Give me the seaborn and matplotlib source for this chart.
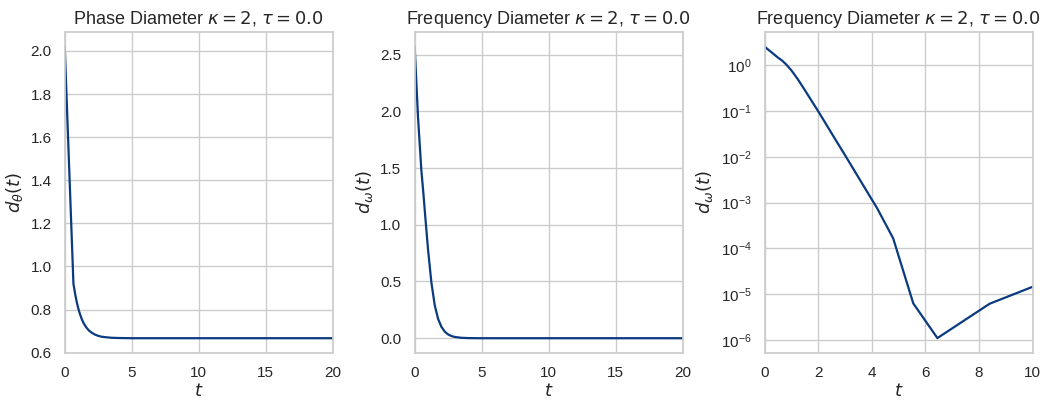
import matplotlib

matplotlib.use("Agg")
import matplotlib.pyplot as plt
import seaborn as sns

# phase diameter d_theta(t)
phase_t = [0.0, 0.33, 0.65, 0.7, 0.8, 0.9, 1.0, 1.1, 1.25, 1.4, 1.6, 1.8, 2.0, 2.25, 2.5, 2.75,
           3.0, 3.5, 4.0, 5.0, 10.0, 15.0, 20.0]
phase_d = [2.02, 1.46, 0.92, 0.901, 0.865, 0.834, 0.808, 0.786, 0.759, 0.738, 0.718, 0.703, 0.693,
           0.684, 0.678, 0.674, 0.672, 0.669, 0.668, 0.667, 0.667, 0.667, 0.667]

# frequency diameter d_omega(t)
freq_t = [0.0, 0.25, 0.5, 0.65, 0.8, 1.0, 1.25, 1.5, 1.75, 2.0, 2.25, 2.5, 2.75, 3.0, 3.5, 4.0,
          4.2, 4.8, 5.55, 6.45, 8.4, 10.0, 14.0, 20.0]
freq_d = [2.57, 1.95, 1.48, 1.28, 1.06, 0.78, 0.49, 0.29, 0.17, 0.10, 0.0575, 0.033, 0.019, 0.011,
          0.0036, 0.00118, 0.00076, 1.66e-4, 6.3e-6, 1.1e-6, 6.2e-6, 1.45e-5, 3.5e-5, 8e-5]

line_color = "#0a3a80"
title = r"Diameter $\kappa = 2$, $\tau = 0.0$"

sns.set_theme(style="whitegrid")
plt.rcParams["font.family"] = ["Liberation Sans", "DejaVu Sans"]
plt.rcParams["xtick.labelsize"] = 11
plt.rcParams["ytick.labelsize"] = 11

fig, axes = plt.subplots(1, 3, figsize=(10.44, 4), dpi=100)

ax = axes[0]
sns.lineplot(x=phase_t, y=phase_d, ax=ax, color=line_color, linewidth=1.6)
ax.set_xlim(0, 20)
ax.set_title("Phase " + title, fontsize=13)
ax.set_xlabel(r"$t$", fontsize=13, labelpad=2)
ax.set_ylabel(r"$d_\theta(t)$", fontsize=13)

ax = axes[1]
sns.lineplot(x=freq_t, y=freq_d, ax=ax, color=line_color, linewidth=1.6)
ax.set_xlim(0, 20)
ax.set_title("Frequency " + title, fontsize=13)
ax.set_xlabel(r"$t$", fontsize=13, labelpad=2)
ax.set_ylabel(r"$d_\omega(t)$", fontsize=13)

ax = axes[2]
sns.lineplot(x=freq_t, y=freq_d, ax=ax, color=line_color, linewidth=1.6)
ax.set_yscale("log")
ax.set_xlim(0, 10)
ax.set_ylim(10 ** -6.28, 10 ** 0.73)
ax.set_title("Frequency " + title, fontsize=13)
ax.set_xlabel(r"$t$", fontsize=13, labelpad=2)
ax.set_ylabel(r"$d_\omega(t)$", fontsize=13)

fig.subplots_adjust(left=0.062, right=0.989, top=0.92, bottom=0.118, wspace=0.306)
fig.savefig("out.png", dpi=100)
plt.close(fig)
